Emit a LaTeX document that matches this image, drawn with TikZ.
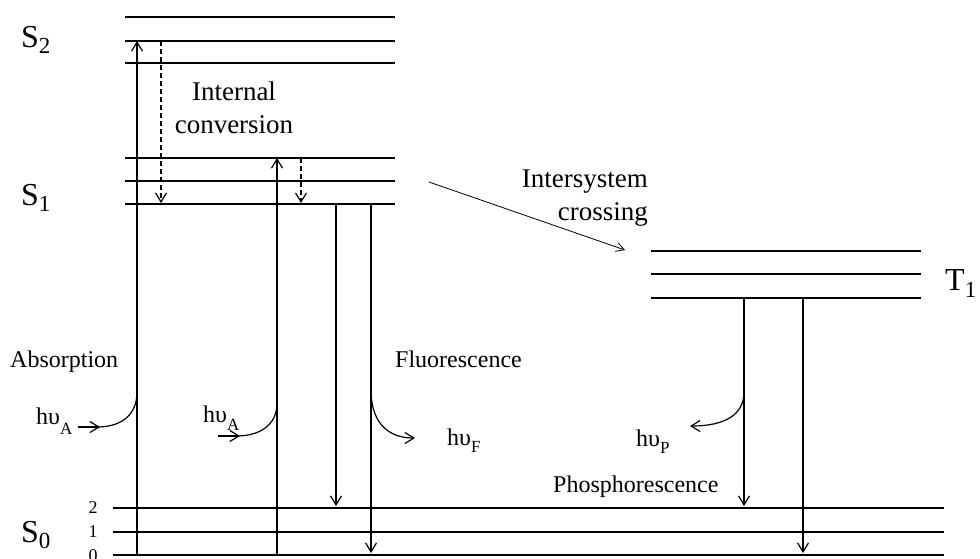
\documentclass[tikz,border=0pt]{standalone}
\usepackage{fontspec}
\setmainfont{Liberation Serif}
\usetikzlibrary{arrows.meta}
\newcommand\lowsub[3]{\raisebox{-#1pt}{\fontsize{#2}{#2}\selectfont #3}}
\begin{document}
\begin{tikzpicture}[x=1pt,y=-1pt,
  level/.style={line width=1.3pt},
  tip/.style={-{Straight Barb[length=9pt,width=11pt,line width=1.2pt]}},
  trans/.style={line width=1.3pt,tip},
  icarrow/.style={line width=1.2pt,tip,dash pattern=on 5pt off 3pt},
  photon/.style={line width=1.2pt},
  state/.style={inner sep=0pt,anchor=base west,font=\fontsize{32}{32}\selectfont},
  proc/.style={inner sep=0pt,anchor=base west,font=\fontsize{24}{28}\selectfont},
  big/.style={inner sep=0pt,font=\fontsize{27}{33}\selectfont},
  hnu/.style={inner sep=0pt,anchor=base west,font=\fontsize{24}{24}\selectfont},
  vib/.style={inner sep=0pt,anchor=base,font=\fontsize{18}{18}\selectfont}]
\useasboundingbox (0,0) rectangle (980,558);

% energy levels
\foreach \y in {17,41,63,158,181,204} \draw[level] (125,\y) -- (395,\y);
\foreach \y in {251,274,298} \draw[level] (651,\y) -- (921,\y);
\foreach \y in {508,532,555} \draw[level] (113,\y) -- (944,\y);

% state labels
\node[state] (S2) at (21,47) {S\lowsub{6}{23}{2}};
\node[state] (S1) at (21,205) {S\lowsub{6}{23}{1}};
\node[state] (S0) at (21,542) {S\lowsub{6}{23}{0}};
\node[state] (T1) at (945,290) {T\lowsub{7}{23}{1}};
\node[vib] (v2) at (93,513) {2};
\node[vib] (v1) at (93,537) {1};
\node[vib] (v0) at (93,561) {0};

% process labels
\node[big,align=center,anchor=base] (ic) at (234,133) {Internal\\conversion};
\node[big,align=right,anchor=base east] (isc) at (648,220) {Intersystem\\crossing};
\node[proc] (abs) at (10,367) {Absorption};
\node[proc] (flu) at (395,367) {Fluorescence};
\node[proc] (pho) at (553,492) {Phosphorescence};
\node[hnu] (hA1) at (36,424) {hυ\lowsub{10}{17}{A}};
\node[hnu] (hA2) at (203,422) {hυ\lowsub{8}{17}{A}};
\node[hnu] (hF) at (447,445) {hυ\lowsub{7}{17}{F}};
\node[hnu] (hP) at (636,446) {hυ\lowsub{7}{17}{P}};

% coordinates
\coordinate (a1b) at (137,555); \coordinate (a1t) at (137,41);
\coordinate (d1t) at (161,41);  \coordinate (d1b) at (161,203);
\coordinate (a2b) at (277,555); \coordinate (a2t) at (277,158);
\coordinate (d2t) at (301,158); \coordinate (d2b) at (301,203);
\coordinate (f1t) at (336,204); \coordinate (f1b) at (336,506);
\coordinate (f2t) at (371,204); \coordinate (f2b) at (371,553);
\coordinate (p1t) at (744,298); \coordinate (p1b) at (744,506);
\coordinate (p2t) at (803,298); \coordinate (p2b) at (803,553);
\coordinate (iscs) at (429,182); \coordinate (isce) at (625,250);

% transitions
\draw[trans] (a1b) -- (a1t);
\draw[trans] (a2b) -- (a2t);
\draw[icarrow] (d1t) -- (d1b);
\draw[icarrow] (d2t) -- (d2b);
\draw[trans] (f1t) -- (f1b);
\draw[trans] (f2t) -- (f2b);
\draw[trans] (p1t) -- (p1b);
\draw[trans] (p2t) -- (p2b);
\draw[line width=0.8pt,-{Straight Barb[length=8pt,width=9pt,line width=0.8pt]}] (iscs) -- (isce);

% photons
\coordinate (ph1a) at (137,392); \coordinate (ph1b) at (97,427);
\coordinate (ph1s) at (78,427);  \coordinate (ph1e) at (100,427);
\draw[photon] (ph1a) .. controls (137,416) and (120,427) .. (ph1b);
\draw[photon,tip] (ph1s) -- (ph1e);

\coordinate (ph2a) at (277,403); \coordinate (ph2b) at (236,436);
\coordinate (ph2s) at (218,436); \coordinate (ph2e) at (240,436);
\draw[photon] (ph2a) .. controls (277,425) and (260,436) .. (ph2b);
\draw[photon,tip] (ph2s) -- (ph2e);

\coordinate (ph3a) at (371,390); \coordinate (ph3e) at (415,438);
\draw[photon,tip] (ph3a) .. controls (371,418) and (384,438) .. (ph3e);

\coordinate (ph4a) at (744,392); \coordinate (ph4e) at (690,426);
\draw[photon,tip] (ph4a) .. controls (744,414) and (726,426) .. (ph4e);
\end{tikzpicture}
\end{document}
